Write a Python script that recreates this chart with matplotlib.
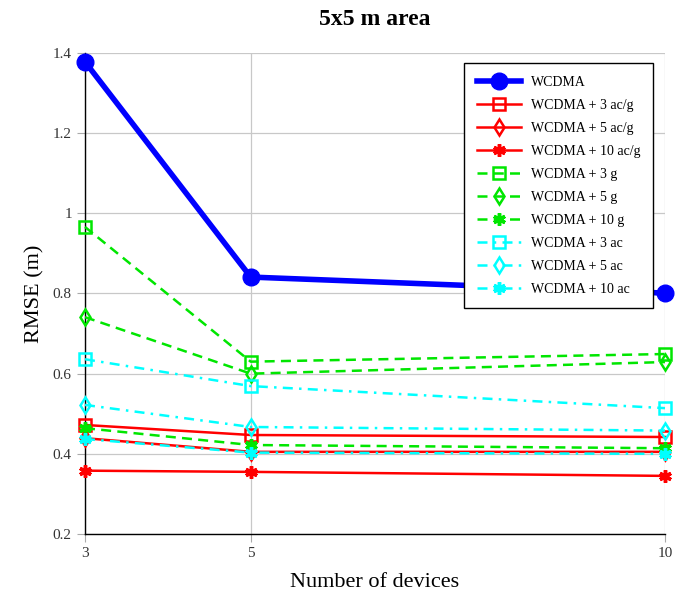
import matplotlib
matplotlib.use("Agg")
import matplotlib.pyplot as plt

plt.rcParams['font.family'] = ['Liberation Serif', 'DejaVu Serif']
plt.rcParams['mathtext.fontset'] = 'cm'

devices = [3, 5, 10]
labels = ["WCDMA", "WCDMA + 3 ac/g", "WCDMA + 5 ac/g", "WCDMA + 10 ac/g",
          "WCDMA + 3 g", "WCDMA + 5 g", "WCDMA + 10 g",
          "WCDMA + 3 ac", "WCDMA + 5 ac", "WCDMA + 10 ac"]
wcdma = [1.378, 0.841, 0.801]
acg3 = [0.472, 0.447, 0.442]
acg5 = [0.439, 0.405, 0.405]
acg10 = [0.358, 0.355, 0.345]
g3 = [0.966, 0.630, 0.649]
g5 = [0.741, 0.600, 0.629]
g10 = [0.464, 0.422, 0.414]
ac3 = [0.636, 0.569, 0.514]
ac5 = [0.522, 0.467, 0.458]
ac10 = [0.437, 0.403, 0.400]
series = [wcdma, acg3, acg5, acg10, g3, g5, g10, ac3, ac5, ac10]

yticks = [0.2, 0.4, 0.6, 0.8, 1.0, 1.2, 1.4]
yticklabels = ["0.2", "0.4", "0.6", "0.8", "1", "1.2", "1.4"]

fig = plt.figure(figsize=(6.84, 5.98), dpi=100)
ax = fig.add_axes([85/684, 1-534/598, 580/684, 481/598])

styles = [
    dict(color='#0000ff', lw=4, ls='-', marker='o', ms=12, mfc='#0000ff', mec='#0000ff'),
    dict(color='#ff0000', lw=1.8, ls='-', marker='s', ms=9, mfc='none', mec='#ff0000', mew=1.8),
    dict(color='#ff0000', lw=1.8, ls='-', marker='d', ms=8, mfc='none', mec='#ff0000', mew=1.8),
    dict(color='#ff0000', lw=1.8, ls='-', marker=(6, 2, 0), ms=9, mec='#ff0000', mew=2.5),
    dict(color='#00e600', lw=1.8, ls=(0, (4, 2.5)), marker='s', ms=9, mfc='none', mec='#00e600', mew=1.8),
    dict(color='#00e600', lw=1.8, ls=(0, (4, 2.5)), marker='d', ms=8, mfc='none', mec='#00e600', mew=1.8),
    dict(color='#00e600', lw=1.8, ls=(0, (4, 2.5)), marker=(6, 2, 0), ms=9, mec='#00e600', mew=2.5),
    dict(color='#00ffff', lw=1.8, ls=(0, (4, 2.5, 1, 2.5)), marker='s', ms=9, mfc='none', mec='#00ffff', mew=1.8),
    dict(color='#00ffff', lw=1.8, ls=(0, (4, 2.5, 1, 2.5)), marker='d', ms=8, mfc='none', mec='#00ffff', mew=1.8),
    dict(color='#00ffff', lw=1.8, ls=(0, (4, 2.5, 1, 2.5)), marker=(6, 2, 0), ms=9, mec='#00ffff', mew=2.5),
]

for lab, vals, st in zip(labels, series, styles):
    ax.plot(devices, vals, label=lab, clip_on=False, zorder=3, **st)

ax.set_xlim(3, 10)
ax.set_ylim(0.2, 1.4)
ax.set_xticks(devices)
ax.set_xticklabels([str(d) for d in devices])
ax.set_yticks(yticks)
ax.set_yticklabels(yticklabels)
ax.grid(True, color='#c8c8c8', lw=0.9)
ax.set_axisbelow(True)
for s in ['top', 'right']:
    ax.spines[s].set_visible(False)
for s in ['left', 'bottom']:
    ax.spines[s].set_color('black')
    ax.spines[s].set_linewidth(1.0)
ax.tick_params(axis='both', direction='out', length=6, color='#aaaaaa', labelsize=11, labelcolor='#333333')

ax.set_xlabel("Number of devices", fontsize=16, labelpad=9)
ax.set_ylabel("RMSE (m)", fontsize=16, labelpad=6)
ax.set_title("5x5 m area", fontsize=17, fontweight='bold', pad=20)

leg = ax.legend(loc='upper right', bbox_to_anchor=(0.979, 0.979), borderaxespad=0,
                fontsize=10, frameon=True, fancybox=False, edgecolor='black', framealpha=1,
                handlelength=3.2, labelspacing=0.72, borderpad=0.9, handletextpad=0.7)
leg.get_frame().set_linewidth(1.0)
leg.set_zorder(5)

fig.savefig("out.png", dpi=100)
